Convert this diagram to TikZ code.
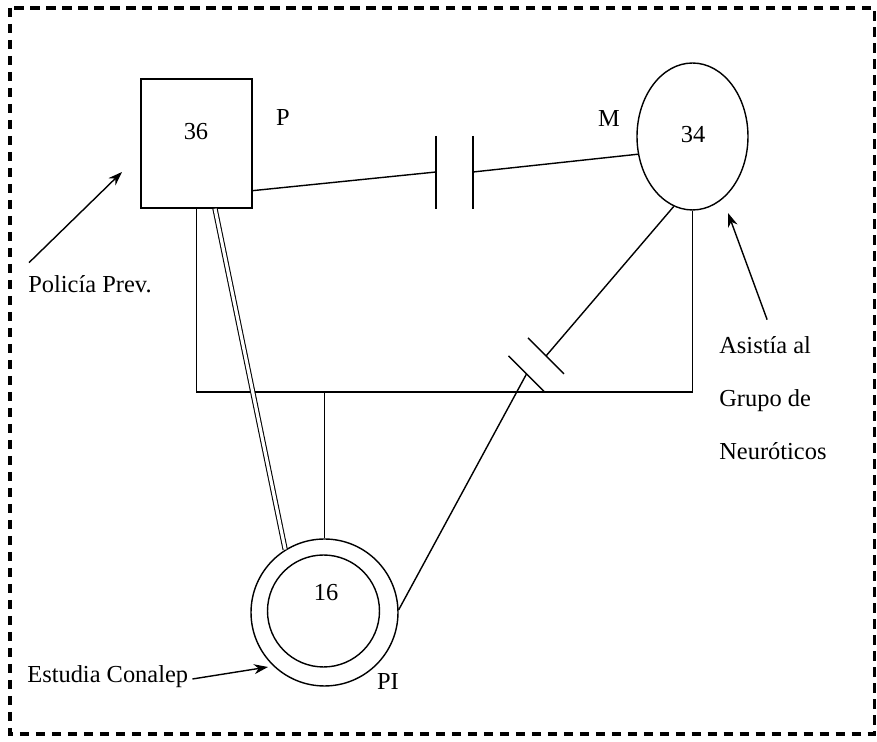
\documentclass[tikz,border=0pt]{standalone}
\usepackage{fontspec}
\setmainfont{Liberation Serif}
\usetikzlibrary{shapes.geometric,arrows.meta}

\begin{document}
\begin{tikzpicture}[
    x=0.02cm, y=-0.02cm,
    wire/.style={black, line width=0.8pt},
    frame/.style={black, line width=2.2pt, dash pattern=on 0.19cm off 0.13cm},
    box/.style={draw, line width=0.8pt, minimum width=2.22cm,
                minimum height=2.58cm, inner sep=0pt},
    oval/.style={draw, ellipse, line width=0.8pt, minimum width=2.22cm,
                 minimum height=2.94cm, inner sep=0pt},
    ring/.style={draw, circle, line width=0.8pt, inner sep=0pt},
    lbl/.style={font=\fontsize{13.9pt}{16pt}\selectfont, inner sep=0pt},
    pointer/.style={line width=0.8pt, -{Stealth[length=2.8mm, width=2mm]}},
    tie/.style={line width=0.6pt, double, double distance=1.8pt}
]

% ---------- frame ----------
\useasboundingbox (0,0) rectangle (877,742);
\draw[frame] (10,8) rectangle (874.5,734);

% ---------- members ----------
\node[box] (P) at (196.5,143.5) {};
\node[oval] (M) at (692.5,136.5) {};
\node[ring, minimum size=2.94cm] (PIo) at (324.5,612.5) {};
\node[ring, minimum size=2.24cm] (PIi) at (323.5,611) {};

% ---------- ages and names ----------
\node[lbl] (n36) at (196,132) {36};
\node[lbl] (n34) at (693,135) {34};
\node[lbl] (n16) at (326,593) {16};
\node[lbl] (nP) at (283,118) {P};
\node[lbl] (nM) at (609,119) {M};
\node[lbl] (nPI) at (388,682) {PI};

% ---------- notes ----------
\node[lbl, anchor=base west] (polLbl) at (28,293) {Policía Prev.};
\foreach \t [count=\i] in {Asistía al, Grupo de, Neuróticos}
  \node[lbl, anchor=base west] (as\i) at (719,301+53*\i) {\t};
\node[lbl, anchor=base west] (estLbl) at (27,683) {Estudia Conalep};

% ---------- cut bond P - M ----------
\coordinate (capL) at (436,172);
\coordinate (capR) at (473,172);
\foreach \c in {capL,capR}
  \draw[wire] (\c) ++(0,-36) -- ++(0,73);
\draw[wire] (P.-40) -- (capL);
\draw[wire] (capR) -- (M.198);

% ---------- line of descent ----------
\coordinate (base) at (196,392);
\draw[wire] (P.south) -- (P.south |- base) -- (M.south |- base) -- (M.south);
\draw[wire] (PIo.north |- base) -- (PIo.north);

% ---------- close bond P - PI ----------
\draw[tie] ([xshift=0.37cm]P.south) -- (PIo.122);

% ---------- broken bond M - PI ----------
\coordinate (brkA) at (546,356);
\coordinate (brkB) at (526.5,374);
\foreach \c in {brkA,brkB}
  \draw[wire] (\c) ++(-18,-18) -- ++(36,36);
\draw[wire] (M.255) -- (brkA);
\draw[wire] (brkB) -- (PIo.2);

% ---------- pointers ----------
\coordinate (polTip) at (122,172);
\coordinate (asTip) at (728,213);
\coordinate (estTip) at (268,667);
\draw[pointer] ([shift={(1,-13)}]polLbl.north west) -- (polTip);
\draw[pointer] ([shift={(2,-17)}]as1.north) -- (asTip);
\draw[pointer] ([shift={(4,-4)}]estLbl.base east) -- (estTip);

\end{tikzpicture}
\end{document}
